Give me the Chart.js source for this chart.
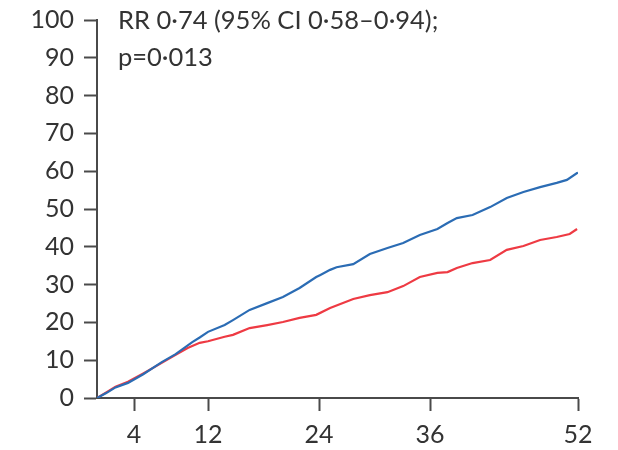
<!DOCTYPE html>
<html>
<head>
<meta charset="utf-8">
<script src="https://cdn.jsdelivr.net/npm/chart.js@4/dist/chart.umd.min.js"></script>
<style>
html,body{margin:0;padding:0;background:#fff;}
#wrap{width:618px;height:450px;position:relative;}
</style>
</head>
<body>
<div id="wrap"><canvas id="c" width="618" height="450"></canvas></div>
<script>
// Data
const blueWeeks = [0,1,2,3.35,5,7,8.5,10.3,11.1,12,13.8,14.7,16.5,18.4,20.1,21.9,23.7,24.1,25.2,25.9,27.7,29.5,31.4,33.1,34.9,36.8,37.9,38.9,40.6,42.5,44.3,46.1,47.9,49.7,50.8,51.9,52];
const blueValues = [0,1.3,2.8,4.0,6.3,9.5,11.6,14.8,16,17.5,19.3,20.6,23.3,25.1,26.7,29.1,32,32.5,33.9,34.6,35.4,38.1,39.7,41,43.1,44.7,46.3,47.6,48.4,50.5,52.9,54.5,55.8,56.9,57.7,59.5,59.6];
const redWeeks = [0,1,2,3.35,5,7,8.5,9.8,11.1,12,13.8,14.7,16.5,18.4,20.1,21.9,23.7,25.2,27.7,29.5,31.4,33.1,34.9,36.8,37.9,38.9,40.6,42.5,44.3,46.1,47.9,49.7,51.1,51.9];
const redValues = [0,1.5,3,4.3,6.5,9.3,11.4,13.2,14.6,15,16.2,16.7,18.5,19.3,20.1,21.2,22,23.8,26.2,27.2,28,29.6,32,33.1,33.3,34.4,35.7,36.5,39.2,40.2,41.8,42.6,43.4,44.7];
const xTicks = [4,12,24,36,52];
const yTicks = [0,10,20,30,40,50,60,70,80,90,100];
const annotationLines = ["RR 0·74 (95% CI 0·58–0·94);", "p=0·013"];

const axisColor = '#4a4a4a';
const textColor = '#333333';
const fontFamily = 'Lato, "Open Sans", sans-serif';

const annotate = {
  id: 'annotate',
  afterDraw(chart) {
    const ctx = chart.ctx;
    ctx.save();
    ctx.fillStyle = textColor;
    ctx.font = '25.5px ' + fontFamily;
    ctx.textBaseline = 'alphabetic';
    ctx.textAlign = 'left';
    annotationLines.forEach((t, i) => ctx.fillText(t, 118, 29 + i * 37));
    ctx.restore();
  }
};

new Chart(document.getElementById('c'), {
  type: 'line',
  data: {
    datasets: [
      { label: 'A', data: blueWeeks.map((w, i) => ({x: w, y: blueValues[i]})), borderColor: '#2b6cb4', borderWidth: 2.2, pointRadius: 0, tension: 0, fill: false },
      { label: 'B', data: redWeeks.map((w, i) => ({x: w, y: redValues[i]})), borderColor: '#ee3a43', borderWidth: 2.2, pointRadius: 0, tension: 0, fill: false }
    ]
  },
  options: {
    responsive: false,
    animation: false,
    layout: { padding: { left: 0, right: 40, top: 20, bottom: 0 } },
    plugins: { legend: { display: false }, tooltip: { enabled: false }, title: { display: false } },
    scales: {
      x: {
        type: 'linear', min: 0, max: 52,
        afterBuildTicks(s) { s.ticks = xTicks.map(v => ({value: v})); },
        afterFit(s) { s.height = 52; s.paddingLeft = 0; s.paddingRight = 0; },
        border: { color: axisColor, width: 2 },
        grid: { drawOnChartArea: false, drawTicks: true, tickLength: 13, tickWidth: 2, tickColor: axisColor },
        ticks: { color: textColor, font: { family: fontFamily, size: 25 }, padding: 9, maxRotation: 0, autoSkip: false }
      },
      y: {
        type: 'linear', min: 0, max: 100,
        afterBuildTicks(s) { s.ticks = yTicks.map(v => ({value: v})); },
        afterFit(s) { s.width = 97; s.paddingTop = 0; s.paddingBottom = 0; },
        border: { color: axisColor, width: 2 },
        grid: { drawOnChartArea: false, drawTicks: true, tickLength: 13, tickWidth: 2, tickColor: axisColor },
        ticks: { color: textColor, font: { family: fontFamily, size: 25 }, padding: 10, autoSkip: false }
      }
    }
  },
  plugins: [annotate]
});
</script>
</body>
</html>
